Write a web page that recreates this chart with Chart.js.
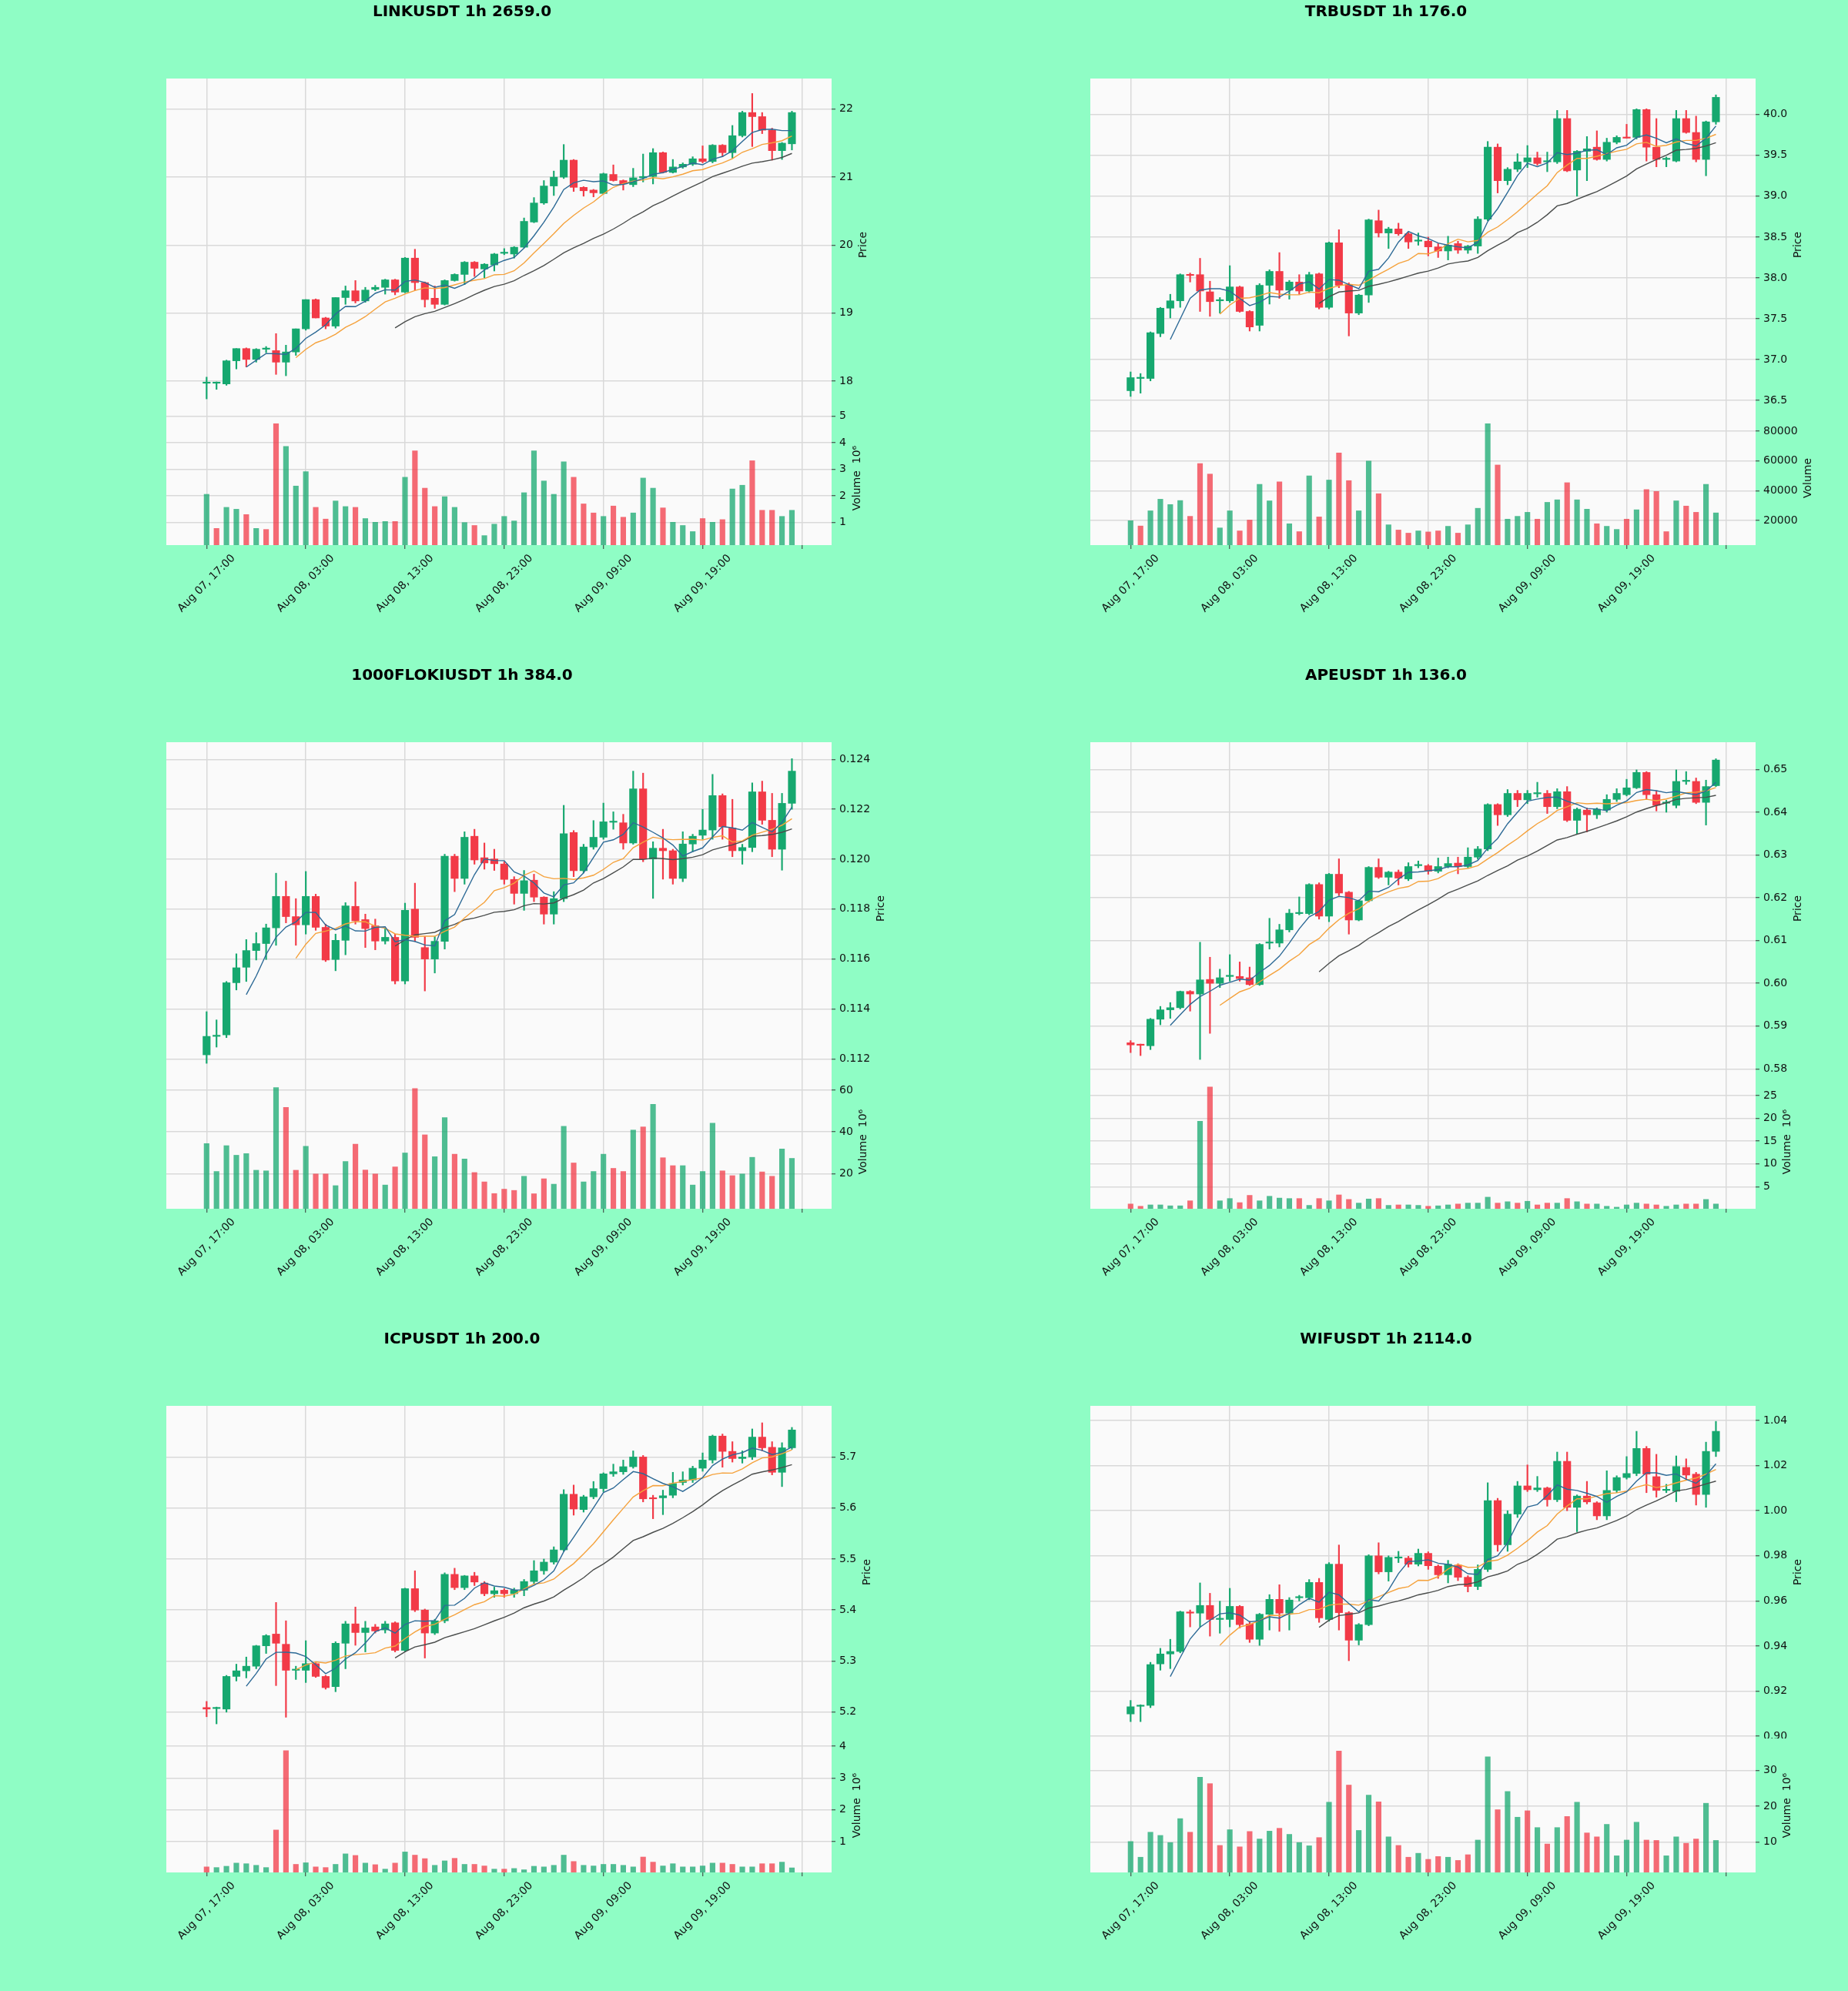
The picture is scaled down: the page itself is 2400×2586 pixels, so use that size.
<!DOCTYPE html>
<html>
<head>
<meta charset="utf-8">
<title>1h candles</title>
<script src="https://cdn.jsdelivr.net/npm/chart.js@4.4.1/dist/chart.umd.min.js"></script>
<style>
  html, body { margin: 0; padding: 0; }
  body { width: 2400px; height: 2586px; background: #8ffdc5; position: relative; overflow: hidden; }
  .cell { position: absolute; width: 1200px; height: 862px; }
  .cell canvas { position: absolute; left: 0; }
</style>
</head>
<body>
<script>
// one candle per hour, Aug 07 17:00 .. Aug 10 04:00
const timeTicks = [0, 10, 20, 30, 40, 50, 60];
const timeLabels = ['Aug 07, 17:00', 'Aug 08, 03:00', 'Aug 08, 13:00', 'Aug 08, 23:00', 'Aug 09, 09:00', 'Aug 09, 19:00', ''];

// LINKUSDT
const linkOpen = [17.97,17.97,17.96,18.30,18.48,18.32,18.47,18.45,18.28,18.43, 18.77,19.20,18.93,18.81,19.23,19.33,19.18,19.35,19.38,19.49, 19.31,19.81,19.45,19.22,19.13,19.48,19.57,19.75,19.65,19.71, 19.88,19.87,19.97,20.34,20.62,20.87,21.00,21.25,20.85,20.81, 20.76,21.04,20.95,20.89,20.99,21.01,21.36,21.07,21.15,21.19, 21.27,21.23,21.47,21.36,21.61,21.95,21.89,21.69,21.39,21.49];
const linkHigh = [18.06,17.99,18.31,18.48,18.49,18.48,18.51,18.70,18.53,18.77, 19.20,19.21,18.94,19.23,19.40,19.48,19.38,19.41,19.50,19.50, 19.82,19.94,19.46,19.40,19.49,19.58,19.76,19.76,19.73,19.88, 19.95,19.98,20.40,20.70,20.95,21.09,21.48,21.26,20.86,20.82, 21.06,21.18,20.96,21.13,21.34,21.42,21.37,21.26,21.21,21.30, 21.46,21.48,21.48,21.76,21.97,22.23,21.95,21.72,21.51,21.97];
const linkLow = [17.74,17.88,17.94,18.18,18.21,18.28,18.42,18.10,18.08,18.38, 18.75,18.93,18.77,18.78,19.13,19.15,19.16,19.33,19.28,19.27, 19.30,19.34,19.09,19.07,19.12,19.47,19.42,19.54,19.52,19.62, 19.86,19.81,19.96,20.33,20.60,20.73,20.98,20.79,20.72,20.71, 20.75,20.94,20.81,20.86,20.93,20.90,21.06,21.06,21.13,21.17, 21.21,21.21,21.30,21.28,21.59,21.45,21.64,21.25,21.26,21.40];
const linkClose = [17.97,17.97,18.30,18.48,18.32,18.47,18.47,18.28,18.43,18.77, 19.20,18.93,18.81,19.23,19.33,19.18,19.34,19.38,19.49,19.31, 19.81,19.45,19.20,19.13,19.48,19.57,19.75,19.66,19.72,19.87, 19.88,19.97,20.35,20.62,20.87,21.00,21.25,20.85,20.80,20.77, 21.05,20.95,20.90,20.99,21.01,21.36,21.07,21.15,21.19,21.27, 21.23,21.47,21.36,21.61,21.95,21.89,21.69,21.39,21.50,21.95];
const linkVol = [2.06,0.78,1.57,1.50,1.30,0.78,0.74,4.71,3.86,2.37, 2.91,1.57,1.13,1.81,1.60,1.57,1.15,1.01,1.04,1.04, 2.70,3.69,2.29,1.60,1.97,1.57,1.00,0.89,0.51,0.94, 1.23,1.06,2.12,3.69,2.56,2.06,3.28,2.70,1.70,1.36, 1.23,1.62,1.20,1.36,2.67,2.29,1.55,1.01,0.89,0.66, 1.15,1.01,1.11,2.26,2.40,3.32,1.46,1.46,1.23,1.46];
const linkPriceTicks = [18, 19, 20, 21, 22];
const linkVolTicks = [1, 2, 3, 4, 5];

// TRBUSDT
const trbOpen = [36.62,36.77,36.77,37.32,37.63,37.72,38.04,38.04,37.83,37.72, 37.72,37.89,37.59,37.42,37.91,38.08,37.85,37.95,37.84,38.05, 37.64,38.43,37.92,37.57,37.79,38.70,38.55,38.60,38.54,38.45, 38.45,38.38,38.33,38.42,38.34,38.39,38.72,39.60,39.19,39.33, 39.42,39.47,39.42,39.42,39.95,39.32,39.55,39.60,39.45,39.66, 39.72,39.72,40.06,39.60,39.45,39.43,39.95,39.78,39.45,39.91];
const trbHigh = [36.85,36.83,37.34,37.64,37.80,38.05,38.06,38.24,37.96,37.76, 38.15,37.90,37.60,37.93,38.10,38.31,37.97,38.04,38.07,38.06, 38.44,38.59,37.94,37.80,38.72,38.83,38.62,38.67,38.56,38.55, 38.50,38.42,38.51,38.45,38.40,38.75,39.67,39.64,39.35,39.52, 39.62,39.54,39.54,40.05,40.05,39.56,39.73,39.80,39.71,39.74, 39.88,40.07,40.07,39.95,39.48,40.05,40.05,39.98,39.92,40.24];
const trbLow = [36.55,36.59,36.74,37.28,37.51,37.64,37.95,37.59,37.53,37.57, 37.70,37.58,37.35,37.35,37.68,37.75,37.74,37.80,37.82,37.62, 37.62,37.88,37.29,37.55,37.70,38.50,38.36,38.52,38.36,38.40, 38.27,38.25,38.22,38.30,38.30,38.30,38.70,39.04,39.14,39.30, 39.35,39.38,39.30,39.40,39.30,39.00,39.19,39.44,39.43,39.64, 39.71,39.70,39.43,39.36,39.36,39.42,39.77,39.42,39.25,39.88];
const trbClose = [36.78,36.77,37.33,37.63,37.72,38.04,38.03,37.84,37.71,37.72, 37.89,37.59,37.40,37.91,38.08,37.85,37.95,37.84,38.04,37.64, 38.43,37.91,37.57,37.79,38.71,38.55,38.60,38.54,38.44,38.45, 38.38,38.33,38.40,38.34,38.39,38.72,39.60,39.19,39.33,39.42, 39.47,39.40,39.42,39.95,39.31,39.55,39.58,39.45,39.66,39.72, 39.71,40.06,39.60,39.45,39.45,39.95,39.78,39.45,39.91,40.21];
const trbVol = [19850,16300,26500,34300,30700,33400,22800,58300,51200,15000, 26500,13000,20300,44300,33200,46000,17800,12500,50000,22400, 47200,65400,46800,26500,60000,38000,17100,13600,11500,13000, 12300,13000,16100,11500,17100,28200,85000,57300,20900,22800, 25500,20900,32200,33900,45400,33900,27600,17800,16100,14000, 20900,27200,40800,39500,12500,33200,29700,25500,44300,25100];
const trbPriceTicks = [36.5, 37.0, 37.5, 38.0, 38.5, 39.0, 39.5, 40.0];
const trbVolTicks = [20000, 40000, 60000, 80000];

// 1000FLOKIUSDT
const flokiOpen = [0.11216,0.11290,0.11296,0.11505,0.11567,0.11634,0.11662,0.11725,0.11851,0.11770, 0.11737,0.11851,0.11727,0.11598,0.11675,0.11811,0.11758,0.11733,0.11672,0.11687, 0.11512,0.11800,0.11646,0.11600,0.11671,0.12012,0.11923,0.12092,0.12006,0.12001, 0.11981,0.11919,0.11863,0.11916,0.11848,0.11780,0.11842,0.12107,0.11954,0.12049, 0.12088,0.12148,0.12146,0.12065,0.12282,0.12001,0.12044,0.12034,0.11923,0.12061, 0.12096,0.12117,0.12255,0.12125,0.12034,0.12047,0.12270,0.12156,0.12040,0.12224];
const flokiHigh = [0.11389,0.11356,0.11510,0.11621,0.11678,0.11706,0.11740,0.11944,0.11912,0.11842, 0.11951,0.11860,0.11740,0.11700,0.11826,0.11909,0.11780,0.11760,0.11724,0.11700, 0.11824,0.11904,0.11690,0.11690,0.12020,0.12020,0.12110,0.12120,0.12065,0.12040, 0.11990,0.11930,0.11955,0.11940,0.11850,0.11870,0.12216,0.12115,0.12060,0.12155, 0.12225,0.12190,0.12180,0.12353,0.12345,0.12070,0.12120,0.12040,0.12110,0.12100, 0.12200,0.12340,0.12262,0.12240,0.12060,0.12306,0.12313,0.12264,0.12264,0.12403];
const flokiLow = [0.11182,0.11247,0.11285,0.11476,0.11510,0.11596,0.11598,0.11655,0.11745,0.11655, 0.11700,0.11715,0.11590,0.11553,0.11617,0.11740,0.11646,0.11637,0.11660,0.11500, 0.11500,0.11670,0.11472,0.11544,0.11640,0.11870,0.11900,0.11980,0.11960,0.11955, 0.11900,0.11820,0.11795,0.11830,0.11740,0.11740,0.11830,0.11930,0.11945,0.12040, 0.12080,0.12120,0.12040,0.12060,0.11990,0.11843,0.11920,0.11900,0.11910,0.12030, 0.12080,0.12080,0.12080,0.12010,0.11980,0.12030,0.12140,0.12010,0.11956,0.12200];
const flokiClose = [0.11290,0.11293,0.11505,0.11565,0.11634,0.11662,0.11725,0.11851,0.11770,0.11737, 0.11851,0.11727,0.11596,0.11675,0.11813,0.11753,0.11722,0.11672,0.11687,0.11512, 0.11795,0.11687,0.11600,0.11671,0.12012,0.11923,0.12088,0.11997,0.11985,0.11982, 0.11919,0.11863,0.11914,0.11848,0.11780,0.11842,0.12102,0.11954,0.12049,0.12088, 0.12150,0.12148,0.12065,0.12282,0.12001,0.12044,0.12034,0.11923,0.12061,0.12092, 0.12117,0.12255,0.12130,0.12034,0.12047,0.12270,0.12156,0.12040,0.12224,0.12353];
const flokiVol = [34.4,21.0,33.4,28.8,29.6,21.6,21.3,61.3,51.8,21.6, 33.1,19.8,19.8,14.2,25.8,34.1,21.7,19.8,14.5,23.2, 29.9,60.8,38.6,28.1,46.9,29.3,27.0,20.5,16.0,10.4, 12.5,11.9,18.7,10.3,17.5,14.9,42.7,25.1,16.0,21.0, 29.3,22.5,21.0,40.9,42.4,53.3,27.6,23.8,23.8,14.5, 21.0,44.2,21.3,19.0,19.8,27.8,20.8,18.7,31.8,27.3];
const flokiPriceTicks = [0.112, 0.114, 0.116, 0.118, 0.120, 0.122, 0.124];
const flokiVolTicks = [20, 40, 60];

// APEUSDT
const apeOpen = [0.5861,0.5856,0.5854,0.5916,0.5938,0.5943,0.5981,0.5975,0.6009,0.6000, 0.6016,0.6016,0.6013,0.5997,0.6094,0.6094,0.6125,0.6163,0.6163,0.6231, 0.6157,0.6255,0.6213,0.6148,0.6193,0.6271,0.6248,0.6260,0.6244,0.6275, 0.6275,0.6262,0.6273,0.6281,0.6273,0.6295,0.6314,0.6418,0.6394,0.6444, 0.6429,0.6443,0.6444,0.6413,0.6448,0.6381,0.6405,0.6394,0.6405,0.6430, 0.6441,0.6457,0.6493,0.6441,0.6421,0.6416,0.6472,0.6472,0.6423,0.6462];
const apeHigh = [0.5866,0.5858,0.5918,0.5946,0.5955,0.5982,0.5983,0.6096,0.6061,0.6033, 0.6067,0.6050,0.6038,0.6093,0.6152,0.6138,0.6173,0.6202,0.6233,0.6235, 0.6257,0.6291,0.6215,0.6195,0.6273,0.6291,0.6262,0.6265,0.6282,0.6286, 0.6278,0.6293,0.6295,0.6295,0.6317,0.6320,0.6420,0.6420,0.6453,0.6451, 0.6451,0.6470,0.6451,0.6455,0.6460,0.6410,0.6410,0.6410,0.6441,0.6455, 0.6477,0.6499,0.6495,0.6450,0.6428,0.6499,0.6495,0.6480,0.6475,0.6525];
const apeLow = [0.5838,0.5831,0.5845,0.5903,0.5918,0.5940,0.5935,0.5822,0.5883,0.5990, 0.6005,0.6005,0.5995,0.5995,0.6080,0.6085,0.6120,0.6160,0.6160,0.6150, 0.6144,0.6205,0.6115,0.6146,0.6190,0.6245,0.6230,0.6230,0.6240,0.6270, 0.6255,0.6258,0.6270,0.6256,0.6270,0.6290,0.6310,0.6369,0.6390,0.6413, 0.6420,0.6435,0.6397,0.6408,0.6378,0.6350,0.6354,0.6385,0.6400,0.6425, 0.6438,0.6455,0.6430,0.6403,0.6400,0.6410,0.6465,0.6420,0.6370,0.6460];
const apeClose = [0.5856,0.5855,0.5916,0.5938,0.5943,0.5981,0.5975,0.6008,0.6000,0.6013, 0.6016,0.6011,0.5997,0.6091,0.6094,0.6125,0.6164,0.6163,0.6231,0.6157, 0.6255,0.6211,0.6148,0.6193,0.6271,0.6248,0.6260,0.6246,0.6273,0.6275, 0.6262,0.6273,0.6280,0.6273,0.6295,0.6314,0.6418,0.6394,0.6444,0.6429, 0.6444,0.6443,0.6413,0.6448,0.6381,0.6407,0.6394,0.6407,0.6430,0.6444, 0.6457,0.6493,0.6441,0.6416,0.6421,0.6472,0.6472,0.6423,0.6460,0.6522];
const apeVol = [1.2,0.7,1.0,1.0,0.8,0.8,1.9,19.4,26.9,1.9, 2.4,1.5,3.1,1.9,2.9,2.5,2.4,2.4,0.9,2.4, 1.9,3.2,2.2,1.4,2.3,2.4,0.9,1.0,1.0,0.9, 0.7,0.8,1.0,1.2,1.4,1.4,2.7,1.4,1.7,1.4, 1.8,1.0,1.4,1.4,2.4,1.7,1.2,1.2,0.7,0.5, 1.0,1.4,1.2,1.0,0.7,1.0,1.2,1.2,2.2,1.2];
const apePriceTicks = [0.58, 0.59, 0.60, 0.61, 0.62, 0.63, 0.64, 0.65];
const apeVolTicks = [5, 10, 15, 20, 25];

// ICPUSDT
const icpOpen = [5.209,5.207,5.206,5.270,5.281,5.290,5.330,5.353,5.333,5.282, 5.282,5.295,5.270,5.250,5.335,5.373,5.356,5.367,5.361,5.375, 5.321,5.442,5.400,5.355,5.379,5.470,5.444,5.467,5.453,5.432, 5.439,5.432,5.439,5.456,5.477,5.494,5.518,5.627,5.597,5.622, 5.638,5.667,5.671,5.681,5.700,5.619,5.620,5.625,5.650,5.655, 5.678,5.694,5.741,5.711,5.697,5.700,5.739,5.719,5.670,5.718];
const icpHigh = [5.221,5.210,5.272,5.294,5.308,5.331,5.352,5.415,5.379,5.290, 5.340,5.297,5.272,5.338,5.378,5.406,5.378,5.372,5.378,5.377, 5.443,5.477,5.402,5.382,5.473,5.482,5.468,5.474,5.456,5.445, 5.442,5.443,5.460,5.497,5.500,5.524,5.636,5.645,5.625,5.652, 5.669,5.686,5.694,5.712,5.703,5.625,5.635,5.670,5.671,5.682, 5.708,5.743,5.745,5.730,5.712,5.755,5.767,5.730,5.728,5.758];
const icpLow = [5.191,5.177,5.200,5.261,5.267,5.285,5.315,5.252,5.190,5.264, 5.258,5.268,5.245,5.240,5.285,5.331,5.318,5.355,5.355,5.318, 5.318,5.397,5.306,5.352,5.375,5.440,5.440,5.448,5.428,5.425, 5.425,5.425,5.428,5.452,5.470,5.490,5.515,5.586,5.592,5.618, 5.632,5.662,5.666,5.678,5.612,5.579,5.587,5.620,5.645,5.650, 5.672,5.688,5.680,5.690,5.688,5.695,5.712,5.665,5.642,5.715];
const icpClose = [5.206,5.207,5.270,5.281,5.290,5.330,5.350,5.335,5.282,5.282, 5.295,5.270,5.248,5.335,5.373,5.356,5.365,5.359,5.373,5.321, 5.442,5.400,5.355,5.379,5.470,5.444,5.467,5.455,5.432,5.438, 5.432,5.439,5.456,5.477,5.494,5.518,5.627,5.598,5.622,5.638, 5.667,5.671,5.681,5.700,5.618,5.618,5.624,5.648,5.655,5.678, 5.694,5.741,5.711,5.697,5.700,5.739,5.718,5.670,5.718,5.753];
const icpVol = [0.21,0.19,0.23,0.33,0.31,0.26,0.19,1.37,3.86,0.29, 0.34,0.21,0.19,0.29,0.62,0.57,0.33,0.28,0.14,0.33, 0.68,0.58,0.47,0.26,0.40,0.48,0.29,0.29,0.24,0.14, 0.14,0.16,0.12,0.23,0.21,0.26,0.58,0.38,0.26,0.24, 0.29,0.29,0.26,0.21,0.52,0.36,0.24,0.31,0.21,0.21, 0.24,0.33,0.33,0.29,0.21,0.21,0.31,0.31,0.36,0.18];
const icpPriceTicks = [5.2, 5.3, 5.4, 5.5, 5.6, 5.7];
const icpVolTicks = [1, 2, 3, 4];

// WIFUSDT
const wifOpen = [0.9099,0.9133,0.9137,0.9321,0.9365,0.9376,0.9550,0.9546,0.9580,0.9518, 0.9518,0.9576,0.9498,0.9430,0.9541,0.9607,0.9546,0.9614,0.9614,0.9682, 0.9518,0.9763,0.9548,0.9426,0.9495,0.9800,0.9729,0.9790,0.9790,0.9763, 0.9811,0.9754,0.9716,0.9759,0.9705,0.9664,0.9740,1.0045,0.9849,0.9985, 1.0110,1.0093,1.0101,1.0049,1.0219,1.0015,1.0065,1.0035,0.9977,1.0090, 1.0147,1.0165,1.0276,1.0151,1.0090,1.0086,1.0192,1.0162,1.0072,1.0263];
const wifHigh = [0.9159,0.9140,0.9328,0.9390,0.9430,0.9555,0.9560,0.9680,0.9634,0.9599, 0.9656,0.9580,0.9510,0.9545,0.9628,0.9672,0.9615,0.9625,0.9695,0.9700, 0.9770,0.9848,0.9553,0.9500,0.9805,0.9858,0.9800,0.9820,0.9798,0.9830, 0.9818,0.9760,0.9780,0.9765,0.9712,0.9760,1.0124,1.0055,1.0000,1.0130, 1.0203,1.0152,1.0105,1.0260,1.0260,1.0070,1.0130,1.0040,1.0177,1.0155, 1.0240,1.0352,1.0285,1.0250,1.0117,1.0243,1.0230,1.0170,1.0304,1.0396];
const wifLow = [0.9065,0.9065,0.9127,0.9293,0.9300,0.9370,0.9485,0.9485,0.9444,0.9457, 0.9485,0.9480,0.9416,0.9403,0.9471,0.9465,0.9471,0.9600,0.9605,0.9505, 0.9510,0.9471,0.9335,0.9405,0.9490,0.9720,0.9688,0.9770,0.9750,0.9755, 0.9740,0.9700,0.9680,0.9690,0.9640,0.9650,0.9730,0.9820,0.9820,0.9970, 1.0085,1.0085,1.0020,1.0040,1.0000,0.9907,1.0030,0.9960,0.9960,1.0080, 1.0140,1.0155,1.0080,1.0060,1.0080,1.0040,1.0140,1.0025,1.0015,1.0240];
const wifClose = [0.9131,0.9133,0.9318,0.9365,0.9376,0.9552,0.9546,0.9580,0.9518,0.9518, 0.9576,0.9495,0.9430,0.9541,0.9607,0.9546,0.9604,0.9618,0.9682,0.9525, 0.9763,0.9548,0.9426,0.9495,0.9800,0.9729,0.9793,0.9790,0.9763,0.9811, 0.9756,0.9716,0.9763,0.9705,0.9664,0.9740,1.0045,0.9849,0.9985,1.0110, 1.0093,1.0101,1.0049,1.0219,1.0015,1.0065,1.0039,0.9977,1.0090,1.0147, 1.0165,1.0276,1.0162,1.0090,1.0092,1.0196,1.0158,1.0072,1.0263,1.0352];
const wifVol = [10.1,5.7,12.7,11.8,9.8,16.5,12.7,28.1,26.3,9.0, 13.4,8.6,12.9,10.8,13.0,13.8,12.1,9.8,8.9,11.2, 21.1,35.4,25.9,13.2,23.1,21.2,11.4,9.0,5.7,6.8, 5.1,5.9,5.7,4.8,6.4,10.5,33.8,19.0,24.1,16.9, 18.7,14.0,9.4,14.0,17.1,21.1,12.5,11.4,14.9,6.1, 10.5,15.5,10.5,10.4,6.1,11.4,9.6,10.8,20.8,10.4];
const wifPriceTicks = [0.90, 0.92, 0.94, 0.96, 0.98, 1.00, 1.02, 1.04];
const wifVolTicks = [10, 20, 30];

const panels = [
  {title: 'LINKUSDT 1h 2659.0', open: linkOpen, high: linkHigh, low: linkLow, close: linkClose, vol: linkVol,
   pMin: 17.56, pMax: 22.45, pTicks: linkPriceTicks, dec: 0, vTicks: linkVolTicks, vLabel: 'Volume  10\u2076'},
  {title: 'TRBUSDT 1h 176.0', open: trbOpen, high: trbHigh, low: trbLow, close: trbClose, vol: trbVol,
   pMin: 36.37, pMax: 40.44, pTicks: trbPriceTicks, dec: 1, vTicks: trbVolTicks, vLabel: 'Volume'},
  {title: '1000FLOKIUSDT 1h 384.0', open: flokiOpen, high: flokiHigh, low: flokiLow, close: flokiClose, vol: flokiVol,
   pMin: 0.11136, pMax: 0.12469, pTicks: flokiPriceTicks, dec: 3, vTicks: flokiVolTicks, vLabel: 'Volume  10\u2076'},
  {title: 'APEUSDT 1h 136.0', open: apeOpen, high: apeHigh, low: apeLow, close: apeClose, vol: apeVol,
   pMin: 0.57861, pMax: 0.65637, pTicks: apePriceTicks, dec: 2, vTicks: apeVolTicks, vLabel: 'Volume  10\u2076'},
  {title: 'ICPUSDT 1h 200.0', open: icpOpen, high: icpHigh, low: icpLow, close: icpClose, vol: icpVol,
   pMin: 5.1484, pMax: 5.8002, pTicks: icpPriceTicks, dec: 1, vTicks: icpVolTicks, vLabel: 'Volume  10\u2076'},
  {title: 'WIFUSDT 1h 2114.0', open: wifOpen, high: wifHigh, low: wifLow, close: wifClose, vol: wifVol,
   pMin: 0.89904, pMax: 1.04648, pTicks: wifPriceTicks, dec: 2, vTicks: wifVolTicks, vLabel: 'Volume  10\u2076'}
];

const FONT = "'DejaVu Sans', sans-serif";
const UP = '#16a86f', DOWN = '#f23a47';
const VUP = 'rgba(22,168,111,0.75)', VDOWN = 'rgba(242,58,71,0.75)';
const MA_LENGTHS = [5, 10, 20];
const MA_COLORS = ['#2d6a96', '#f5a23c', '#4a4d4c'];
const GRID = '#d9d9d9';
const X_MIN = -4.06, X_MAX = 63.0;

Chart.defaults.font.family = FONT;
Chart.defaults.font.size = 14;
Chart.defaults.color = '#111';

function movingAverage(c, n) {
  const out = [];
  for (let i = n - 1; i < c.length; i++) {
    let s = 0;
    for (let k = i - n + 1; k <= i; k++) s += c[k];
    out.push({x: i, y: s / n});
  }
  return out;
}

// fill the plot area
const plotBg = {
  id: 'plotBg',
  beforeDraw(chart) {
    const {ctx, chartArea: a} = chart;
    ctx.save();
    ctx.fillStyle = '#fafafa';
    ctx.fillRect(a.left, a.top, a.width, a.height);
    ctx.restore();
  }
};

// y label on the right, reading bottom to top like matplotlib
const sideTitle = {
  id: 'sideTitle',
  afterDraw(chart, args, opts) {
    const {ctx, chartArea: a} = chart;
    ctx.save();
    ctx.font = '14px ' + FONT;
    let w = 0;
    chart.scales.y.ticks.forEach(t => { w = Math.max(w, ctx.measureText(String(t.label)).width); });
    ctx.translate(a.right + 10 + w + 6 + 8, (a.top + a.bottom) / 2);
    ctx.rotate(-Math.PI / 2);
    ctx.textAlign = 'center';
    ctx.textBaseline = 'middle';
    ctx.fillStyle = '#111';
    ctx.fillText(opts.text, 0, 0);
    ctx.restore();
  }
};

const panelTitle = {
  id: 'panelTitle',
  afterDraw(chart, args, opts) {
    const ctx = chart.ctx;
    ctx.save();
    ctx.font = 'bold 20px ' + FONT;
    ctx.textAlign = 'center';
    ctx.textBaseline = 'middle';
    ctx.fillStyle = '#000';
    ctx.fillText(opts.text, chart.width / 2, 16);
    ctx.restore();
  }
};

// rotated time labels centred on their ticks
const timeAxisLabels = {
  id: 'timeAxisLabels',
  afterDraw(chart) {
    const {ctx, chartArea: a} = chart;
    const xs = chart.scales.x;
    ctx.save();
    ctx.font = '14px ' + FONT;
    ctx.fillStyle = '#111';
    ctx.textAlign = 'center';
    ctx.textBaseline = 'middle';
    timeTicks.forEach((v, i) => {
      const t = timeLabels[i];
      if (!t) return;
      const w = ctx.measureText(t).width;
      const d = (w / 2 + 7) * Math.SQRT1_2;
      ctx.save();
      ctx.translate(xs.getPixelForValue(v), a.bottom + 10 + d);
      ctx.rotate(-Math.PI / 4);
      ctx.fillText(t, 0, 0);
      ctx.restore();
    });
    ctx.restore();
  }
};

function noEdgePadding(s) {
  s.paddingTop = 0; s.paddingBottom = 0; s.paddingLeft = 0; s.paddingRight = 0;
}

function xAxis(withTicks) {
  return {
    type: 'linear', min: X_MIN, max: X_MAX, offset: false,
    afterBuildTicks: s => { s.ticks = timeTicks.map(v => ({value: v})); },
    ticks: {display: false},
    grid: {color: GRID, lineWidth: 1.5, offset: false, drawTicks: withTicks, tickLength: 5, tickColor: '#333', tickWidth: 1},
    border: {display: false},
    afterFit: s => { s.height = withTicks ? 154 : 0; noEdgePadding(s); }
  };
}

function yAxis(min, max, vals, fmt) {
  return {
    position: 'right', min, max,
    afterBuildTicks: s => { s.ticks = vals.map(v => ({value: v})); },
    ticks: {callback: fmt, padding: 5, color: '#111', font: {size: 14}},
    grid: {color: GRID, lineWidth: 1.5, tickLength: 5, tickColor: '#333', tickWidth: 1},
    border: {display: false},
    afterFit: s => { s.width = 120; noEdgePadding(s); }
  };
}

const baseOptions = {
  responsive: false,
  animation: false,
  devicePixelRatio: 1,
  events: []
};

panels.forEach((p, idx) => {
  const cell = document.createElement('div');
  cell.className = 'cell';
  cell.style.left = (idx % 2) * 1200 + 'px';
  cell.style.top = Math.floor(idx / 2) * 862 + 'px';
  document.body.appendChild(cell);

  const priceCanvas = document.createElement('canvas');
  priceCanvas.width = 1200; priceCanvas.height = 534;
  priceCanvas.style.top = '0px';
  const volCanvas = document.createElement('canvas');
  volCanvas.width = 1200; volCanvas.height = 328;
  volCanvas.style.top = '534px';
  cell.appendChild(priceCanvas);
  cell.appendChild(volCanvas);

  const candleColors = p.close.map((c, i) => c >= p.open[i] ? UP : DOWN);
  const volColors = p.close.map((c, i) => (i === 0 ? c >= p.open[0] : c > p.close[i - 1]) ? VUP : VDOWN);

  const lines = MA_LENGTHS.map((n, k) => ({
    type: 'line',
    data: movingAverage(p.close, n),
    borderColor: MA_COLORS[k],
    borderWidth: 1.4,
    pointRadius: 0,
    tension: 0,
    order: 0
  }));

  new Chart(priceCanvas, {
    type: 'bar',
    data: {
      datasets: [
        ...lines,
        {
          data: p.open.map((o, i) => ({x: i, y: [o, p.close[i]]})),
          backgroundColor: candleColors,
          barThickness: 9.5,
          minBarLength: 1.5,
          grouped: false,
          order: 1
        },
        {
          data: p.low.map((l, i) => ({x: i, y: [l, p.high[i]]})),
          backgroundColor: candleColors,
          barThickness: 1.5,
          grouped: false,
          order: 2
        }
      ]
    },
    options: {
      ...baseOptions,
      layout: {padding: {left: 216, right: 0, top: 102, bottom: 0}},
      scales: {
        x: xAxis(false),
        y: yAxis(p.pMin, p.pMax, p.pTicks, v => Number(v).toFixed(p.dec))
      },
      plugins: {
        legend: {display: false},
        tooltip: {enabled: false},
        sideTitle: {text: 'Price'},
        panelTitle: {text: p.title}
      }
    },
    plugins: [plotBg, sideTitle, panelTitle]
  });

  const vMin = 0.3 * Math.min(...p.vol);
  const vMax = 1.1 * Math.max(...p.vol);

  new Chart(volCanvas, {
    type: 'bar',
    data: {
      datasets: [{
        data: p.vol.map((v, i) => ({x: i, y: v})),
        backgroundColor: volColors,
        barThickness: 6.5,
        grouped: false
      }]
    },
    options: {
      ...baseOptions,
      layout: {padding: {left: 216, right: 0, top: 0, bottom: 0}},
      scales: {
        x: xAxis(true),
        y: yAxis(vMin, vMax, p.vTicks, v => String(v))
      },
      plugins: {
        legend: {display: false},
        tooltip: {enabled: false},
        sideTitle: {text: p.vLabel}
      }
    },
    plugins: [plotBg, sideTitle, timeAxisLabels]
  });
});
</script>
</body>
</html>
